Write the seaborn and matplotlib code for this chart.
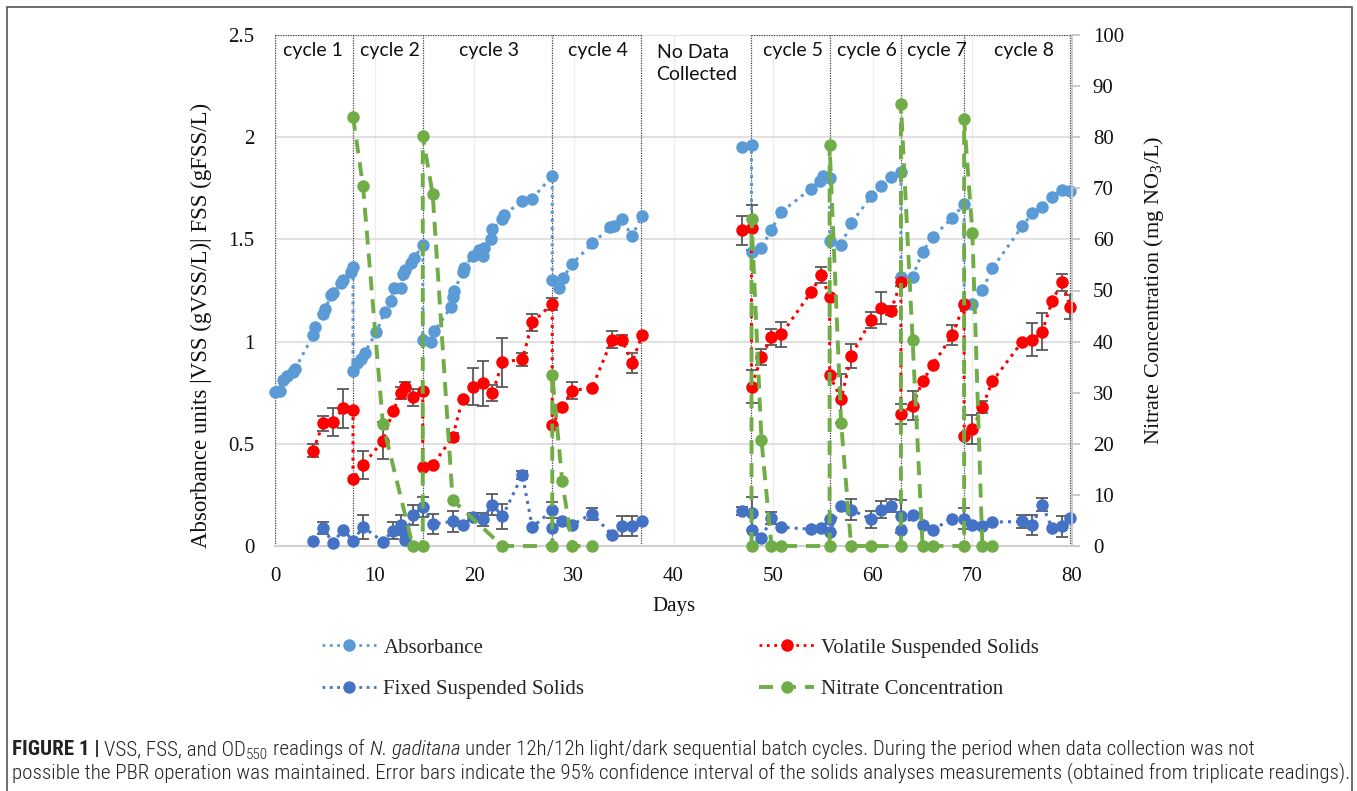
import numpy as np
import pandas as pd
import seaborn as sns
import matplotlib
matplotlib.use("Agg")
import matplotlib.pyplot as plt
from matplotlib.lines import Line2D
from matplotlib.patches import Rectangle
from matplotlib.ticker import FuncFormatter
from matplotlib import font_manager

# ---------------- data ----------------
abs_day = [0, 0.5, 0.8, 1.2, 1.8, 2.0, 3.83, 4.0, 4.83, 5.0, 5.67, 5.83, 6.67, 6.83, 7.67, 7.83,
           7.83, 8.23, 8.67, 9.0, 10.17, 11.0, 11.67, 11.9, 12.67, 12.83, 13.0, 13.67, 14.0, 14.83,
           14.83, 15.67, 16.0, 17.67, 17.83, 18.0, 18.83, 19.0, 19.83, 20.5, 20.83, 21.0, 21.67, 21.83,
           22.83, 23.0, 24.83, 25.83, 27.83,
           27.83, 28.5, 28.9, 29.83, 31.83, 33.67, 34.0, 34.83, 35.83, 36.83,
           46.83, 47.83, 47.83, 48.83, 49.83, 50.83, 53.83, 54.67, 55.0, 55.67,
           55.67, 56.83, 57.83, 59.83, 60.83, 61.83, 62.83,
           62.83, 64.0, 65.0, 66.0, 68.0, 69.17,
           69.17, 70.0, 71.0, 72.0, 75.0, 76.0, 77.0, 78.0, 79.0, 79.83]
abs_val = [0.755, 0.76, 0.81, 0.83, 0.85, 0.865, 1.03, 1.07, 1.135, 1.16, 1.226, 1.24, 1.287, 1.30, 1.34, 1.366,
           0.855, 0.896, 0.913, 0.946, 1.045, 1.144, 1.20, 1.26, 1.26, 1.333, 1.35, 1.383, 1.408, 1.474,
           1.01, 1.00, 1.05, 1.17, 1.22, 1.25, 1.34, 1.36, 1.42, 1.45, 1.42, 1.46, 1.50, 1.55,
           1.60, 1.62, 1.69, 1.70, 1.81,
           1.30, 1.26, 1.31, 1.38, 1.48, 1.56, 1.565, 1.60, 1.515, 1.615,
           1.952, 1.964, 1.44, 1.457, 1.548, 1.635, 1.749, 1.787, 1.81, 1.80,
           1.49, 1.474, 1.578, 1.71, 1.762, 1.804, 1.828,
           1.317, 1.317, 1.44, 1.511, 1.606, 1.672,
           1.177, 1.185, 1.251, 1.358, 1.564, 1.627, 1.66, 1.708, 1.741, 1.738]

vss_day = [3.83, 4.83, 5.83, 6.83, 7.83, 7.83, 8.83, 10.83, 11.83, 12.67, 13.0, 13.83, 14.83, 14.83,
           15.83, 17.83, 18.83, 19.83, 20.83, 21.83, 22.83, 24.83, 25.83, 27.83, 27.83, 28.83, 29.83,
           31.83, 33.83, 34.83, 35.83, 36.83,
           46.83, 47.83, 47.83, 48.83, 49.83, 50.83, 53.83, 54.83, 55.67, 55.67, 56.83, 57.83, 59.83,
           60.83, 61.83, 62.83, 62.83, 64.0, 65.0, 66.0, 68.0, 69.17, 69.17, 70.0, 71.0, 72.0, 75.0,
           76.0, 77.0, 78.0, 79.0, 79.83]
vss_val = [0.467, 0.60, 0.607, 0.673, 0.665, 0.33, 0.396, 0.515, 0.66, 0.748, 0.78, 0.727, 0.76, 0.386,
           0.396, 0.533, 0.72, 0.78, 0.797, 0.747, 0.90, 0.913, 1.094, 1.185, 0.594, 0.68, 0.76,
           0.775, 1.01, 1.01, 0.896, 1.03,
           1.545, 1.556, 0.78, 0.924, 1.023, 1.036, 1.243, 1.325, 1.218, 0.835, 0.72, 0.929, 1.106,
           1.165, 1.152, 1.292, 0.645, 0.687, 0.805, 0.884, 1.033, 1.185, 0.538, 0.571, 0.68, 0.805, 1.0,
           1.01, 1.048, 1.198, 1.29, 1.17]
vss_err = [0.03, 0.035, 0.07, 0.095, 0, 0, 0.07, 0.09, 0, 0.03, 0.02, 0.04, 0, 0,
           0, 0.02, 0, 0.09, 0.11, 0.04, 0.12, 0.03, 0.04, 0.03, 0, 0, 0.04,
           0, 0.04, 0.02, 0.05, 0,
           0.07, 0.11, 0.08, 0.04, 0.04, 0.06, 0, 0.04, 0, 0, 0.12, 0.06, 0.04,
           0.08, 0.02, 0.02, 0.05, 0.07, 0, 0, 0.05, 0, 0, 0.07, 0.03, 0, 0,
           0.08, 0.09, 0, 0.04, 0.06]

fss_day = [3.83, 4.83, 5.83, 6.83, 7.83, 8.83, 10.83, 11.83, 12.67, 12.9, 13.0, 13.83, 14.83, 15.83,
           17.83, 18.83, 19.83, 20.83, 21.83, 22.83, 24.83, 25.83, 27.83, 27.83, 28.83, 29.83, 31.83,
           33.83, 34.83, 35.83, 36.83,
           46.83, 47.83, 47.83, 48.83, 49.83, 50.83, 53.83, 54.83, 55.67, 55.67, 56.83, 57.83, 59.83,
           60.83, 61.83, 62.83, 62.83, 64.0, 65.0, 66.0, 68.0, 69.17, 70.0, 71.0, 72.0, 75.0, 76.0,
           77.0, 78.0, 79.0, 79.83]
fss_val = [0.026, 0.087, 0.016, 0.08, 0.026, 0.094, 0.021, 0.075, 0.103, 0.07, 0.03, 0.152, 0.19, 0.108,
           0.12, 0.104, 0.14, 0.13, 0.203, 0.145, 0.347, 0.092, 0.175, 0.09, 0.12, 0.104, 0.158,
           0.054, 0.099, 0.099, 0.12,
           0.17, 0.16, 0.08, 0.038, 0.137, 0.092, 0.082, 0.087, 0.13, 0.07, 0.198, 0.178, 0.13,
           0.178, 0.198, 0.145, 0.076, 0.15, 0.104, 0.08, 0.134, 0.134, 0.104, 0.096, 0.117, 0.12, 0.104,
           0.203, 0.087, 0.096, 0.137]
fss_err = [0, 0.03, 0, 0, 0, 0.06, 0, 0.04, 0.05, 0, 0, 0.05, 0.05, 0.05,
           0.05, 0, 0.02, 0.03, 0.05, 0.06, 0.02, 0, 0.04, 0, 0, 0, 0.03,
           0, 0.05, 0.05, 0,
           0.02, 0.08, 0, 0, 0.03, 0, 0, 0, 0, 0, 0, 0.05, 0.04,
           0.04, 0.03, 0.08, 0, 0, 0, 0, 0, 0.05, 0, 0, 0, 0.03, 0.05,
           0.03, 0, 0.05, 0]

nit_day = [7.83, 8.83, 10.83, 13.83, 14.83, 14.83, 15.83, 17.83, 22.83, 27.83, 27.83, 28.83, 29.83, 31.83,
           47.83, 47.83, 48.83, 49.83, 50.83, 55.67, 55.67, 56.83, 57.83, 59.83,
           62.83, 62.83, 64.0, 65.0, 66.0, 69.17, 69.17, 70.0, 71.0, 72.0]
nit_val = [84.0, 70.5, 23.8, 0, 0, 80.2, 68.8, 9.0, 0, 0, 33.5, 12.7, 0, 0,
           0, 63.9, 20.7, 0, 0, 0, 78.4, 24.0, 0, 0,
           0, 86.5, 40.3, 0, 0, 0, 83.5, 61.3, 0, 0]

cycle_edges_a = [0, 7.83, 14.83, 27.83, 36.75]
cycle_edges_b = [47.75, 55.67, 62.8, 69.15, 79.75]
cycle_labels = ["cycle 1", "cycle 2", "cycle 3", "cycle 4", "cycle 5", "cycle 6", "cycle 7", "cycle 8"]
cycle_label_day = [3.8, 11.5, 21.5, 32.4, 52.0, 59.4, 66.4, 75.2]
gap_label = "No Data\nCollected"

x_ticks = [0, 10, 20, 30, 40, 50, 60, 70, 80]
left_ticks = [0, 0.5, 1, 1.5, 2, 2.5]
right_ticks = [0, 10, 20, 30, 40, 50, 60, 70, 80, 90, 100]

C_ABS = "#5B9BD5"
C_VSS = "#FF0000"
C_FSS = "#4472C4"
C_NIT = "#70AD47"
C_ERR = "#595959"

# ---------------- style ----------------
sns.set_theme(style="white")
SERIF = ["Liberation Serif", "DejaVu Serif"]
plt.rcParams["font.family"] = SERIF
plt.rcParams["mathtext.fontset"] = "custom"
plt.rcParams["mathtext.rm"] = "Liberation Serif"
names = {f.name for f in font_manager.fontManager.ttflist}
CAP_FONT = "Liberation Sans"
for cand in ("Liberation Sans Narrow", "Roboto Condensed", "Roboto"):
    if cand in names:
        CAP_FONT = cand
        break
LAB_FONT = "Lato"

W, H = 1357, 791
fig = plt.figure(figsize=(W / 100, H / 100), dpi=100)
ax = fig.add_axes([275 / W, 1 - 546 / H, 797 / W, 511 / H])
ax2 = ax.twinx()


def frame(days, vals):
    df = pd.DataFrame({"day": days, "value": vals})
    df["segment"] = np.where(df["day"] < 42, 1, 2)
    return df


line_kw = dict(estimator=None, sort=False, units="segment", legend=False, marker="o",
               markersize=9, markeredgewidth=0, clip_on=False)

sns.lineplot(data=frame(abs_day, abs_val), x="day", y="value", color=C_ABS,
             linestyle=":", linewidth=2.2, ax=ax, zorder=3, **line_kw)
sns.lineplot(data=frame(fss_day, fss_val), x="day", y="value", color=C_FSS,
             linestyle=":", linewidth=2.2, ax=ax, zorder=3, **line_kw)
sns.lineplot(data=frame(vss_day, vss_val), x="day", y="value", color=C_VSS,
             linestyle=":", linewidth=2.2, ax=ax, zorder=3, **line_kw)


def draw_err(d, v, e):
    d, v, e = map(np.asarray, (d, v, e))
    m = e > 0
    ax.errorbar(d[m], v[m], yerr=e[m], fmt="none", ecolor=C_ERR, elinewidth=1.3,
                capsize=4, capthick=1.3, zorder=2.5)


draw_err(vss_day, vss_val, vss_err)
draw_err(fss_day, fss_val, fss_err)

sns.lineplot(data=frame(nit_day, nit_val), x="day", y="value", color=C_NIT,
             linestyle=(0, (3.6, 2.3)), linewidth=2.8, ax=ax2, zorder=3, **line_kw)

# cycle boxes
box_kw = dict(color="#444444", linestyle=(0, (1, 1)), linewidth=0.9, zorder=1.5)
for edges in (cycle_edges_a, cycle_edges_b):
    ax.vlines(edges, 0, 2.5, **box_kw)
    ax.hlines([0, 2.5], edges[0], edges[-1], **box_kw)

for lab, d in zip(cycle_labels, cycle_label_day):
    ax.text(d, 2.425, lab, ha="center", va="center", fontsize=14, family=LAB_FONT, color="#111111")
ax.text(38.3, 2.36, gap_label, ha="left", va="center", fontsize=14, family=LAB_FONT,
        color="#111111", linespacing=1.4)

# axes
ax.set_xlim(0, 80)
ax.set_ylim(0, 2.5)
ax2.set_ylim(0, 100)
ax.set_xticks(x_ticks)
ax.set_yticks(left_ticks)
ax2.set_yticks(right_ticks)
ax.yaxis.set_major_formatter(FuncFormatter(lambda v, p: f"{v:g}"))
ax.set_axisbelow(True)
ax.yaxis.grid(True, color="#D9D9D9", linewidth=1.1)
ax.xaxis.grid(True, color="#EDEDED", linewidth=1.0)
for s in ("left", "top", "right"):
    ax.spines[s].set_visible(False)
ax.spines["bottom"].set_color("#D0D0D0")
ax.spines["bottom"].set_linewidth(1.5)
for s in ("left", "top", "bottom"):
    ax2.spines[s].set_visible(False)
ax2.spines["right"].set_color("#C8C8C8")
ax2.spines["right"].set_linewidth(1.3)

ax.tick_params(axis="both", length=0, labelsize=15, colors="#111111")
ax.tick_params(axis="x", pad=15)
ax.tick_params(axis="y", pad=15)
ax2.tick_params(axis="y", direction="out", length=6, width=1.1, color="#BBBBBB",
                labelsize=15, labelcolor="#111111", pad=9)

ax.set_xlabel("Days", fontsize=15, labelpad=8, color="#111111")
ax.set_ylabel("Absorbance units |VSS (gVSS/L)| FSS (gFSS/L)", fontsize=16.5, labelpad=8, color="#111111")
ax.yaxis.set_label_coords(-0.079, 0.432)
ax2.set_ylabel(r"Nitrate Concentration (mg NO$_3$/L)", fontsize=16, labelpad=13, color="#111111")

# legend
leg_line = dict(marker="o", markersize=9, markeredgewidth=0)
handles = [
    Line2D([], [], color=C_ABS, linestyle=":", linewidth=2.0, **leg_line),
    Line2D([], [], color=C_FSS, linestyle=":", linewidth=2.0, **leg_line),
    Line2D([], [], color=C_VSS, linestyle=":", linewidth=2.0, **leg_line),
    Line2D([], [], color=C_NIT, linestyle=(0, (3.6, 2.3)), linewidth=2.8, **leg_line),
]
labels = ["Absorbance", "Fixed Suspended Solids", "Volatile Suspended Solids", "Nitrate Concentration"]
fig.legend(handles, labels, loc="upper left", bbox_to_anchor=(322 / W, 1 - 638 / H), ncol=2,
           frameon=False, fontsize=15, handlelength=2.6, handletextpad=0.35, columnspacing=8.4,
           labelspacing=1.05, borderpad=0, borderaxespad=0, numpoints=1)

# outer frame
fig.patches.append(Rectangle((7 / W, -0.02), (1352 - 7) / W, 1.02 - 7 / H, transform=fig.transFigure,
                             fill=False, edgecolor="#555555", linewidth=1.2))

# caption
renderer = fig.canvas.get_renderer()
line2 = ("possible the PBR operation was maintained. Error bars indicate the 95% confidence "
         "interval of the solids analyses measurements (obtained from triplicate readings).")
target_w = 1335.0
probe = fig.text(0, 0, line2, family=CAP_FONT, fontsize=12, weight="light")
pw = probe.get_window_extent(renderer).width
probe.remove()
cs = 12 * target_w / pw


def text_w(s):
    t = fig.text(0, 0, s, fontsize=cs, family=CAP_FONT, weight="light")
    w = t.get_window_extent(renderer).width
    t.remove()
    return w


space = text_w("a a") - text_w("aa")
y1 = 1 - 755 / H
y2 = 1 - 778 / H
pieces = [
    ("FIGURE 1 |", dict(weight="bold"), 0, True),
    ("VSS, FSS, and OD", dict(weight="light"), 0, False),
    ("550", dict(size=cs * 0.72, weight="light"), -4, True),
    ("readings of", dict(weight="light"), 0, True),
    ("N. gaditana", dict(style="italic", weight="light"), 0, True),
    ("under 12h/12h light/dark sequential batch cycles. During the period when data collection was not",
     dict(weight="light"), 0, True),
]
x = 12.0
for s, kw, dy, gap in pieces:
    size = kw.pop("size", cs)
    t = fig.text(x / W, y1 + dy / H, s, fontsize=size, family=CAP_FONT, color="#222222", **kw)
    x += t.get_window_extent(renderer).width + (space if gap else 0)
fig.text(12 / W, y2, line2, fontsize=cs, family=CAP_FONT, color="#222222", weight="light")

fig.savefig("out.png", dpi=100)
